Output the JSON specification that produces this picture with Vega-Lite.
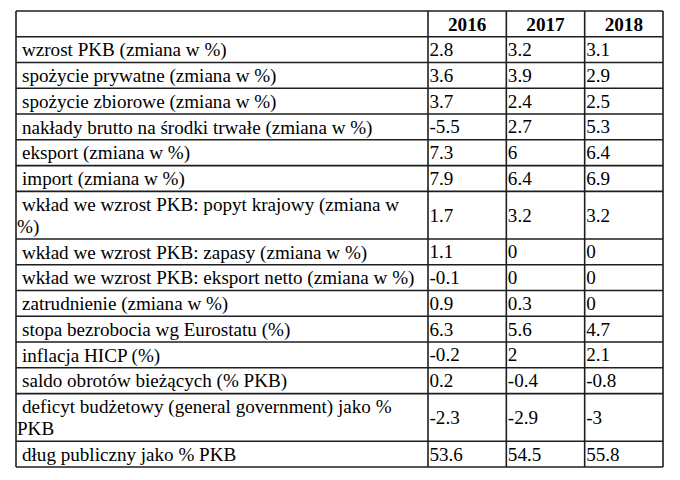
{
  "$schema": "https://vega.github.io/schema/vega-lite/v6.json",
  "autosize": "none",
  "width": 647,
  "height": 456,
  "padding": {"left": 16, "top": 11, "right": 17, "bottom": 13},
  "background": "white",
  "config": {"view": {"stroke": null}, "axis": {"disable": true}, "text": {"font": "'Liberation Serif', 'Times New Roman', 'DejaVu Serif', serif"}},
  "datasets": {
    "rows": [
      {"r": 0, "lines": 1, "label": "", "cont": ""},
      {"r": 1, "lines": 1, "label": "wzrost PKB (zmiana w %)", "cont": "", "2016": 2.8, "2017": 3.2, "2018": 3.1},
      {"r": 2, "lines": 1, "label": "spożycie prywatne (zmiana w %)", "cont": "", "2016": 3.6, "2017": 3.9, "2018": 2.9},
      {"r": 3, "lines": 1, "label": "spożycie zbiorowe (zmiana w %)", "cont": "", "2016": 3.7, "2017": 2.4, "2018": 2.5},
      {"r": 4, "lines": 1, "label": "nakłady brutto na środki trwałe (zmiana w %)", "cont": "", "2016": -5.5, "2017": 2.7, "2018": 5.3},
      {"r": 5, "lines": 1, "label": "eksport (zmiana w %)", "cont": "", "2016": 7.3, "2017": 6, "2018": 6.4},
      {"r": 6, "lines": 1, "label": "import (zmiana w %)", "cont": "", "2016": 7.9, "2017": 6.4, "2018": 6.9},
      {"r": 7, "lines": 2, "label": "wkład we wzrost PKB: popyt krajowy (zmiana w", "cont": "%)", "2016": 1.7, "2017": 3.2, "2018": 3.2},
      {"r": 8, "lines": 1, "label": "wkład we wzrost PKB: zapasy (zmiana w %)", "cont": "", "2016": 1.1, "2017": 0, "2018": 0},
      {"r": 9, "lines": 1, "label": "wkład we wzrost PKB: eksport netto (zmiana w %)", "cont": "", "2016": -0.1, "2017": 0, "2018": 0},
      {"r": 10, "lines": 1, "label": "zatrudnienie (zmiana w %)", "cont": "", "2016": 0.9, "2017": 0.3, "2018": 0},
      {"r": 11, "lines": 1, "label": "stopa bezrobocia wg Eurostatu (%)", "cont": "", "2016": 6.3, "2017": 5.6, "2018": 4.7},
      {"r": 12, "lines": 1, "label": "inflacja HICP (%)", "cont": "", "2016": -0.2, "2017": 2, "2018": 2.1},
      {"r": 13, "lines": 1, "label": "saldo obrotów bieżących (% PKB)", "cont": "", "2016": 0.2, "2017": -0.4, "2018": -0.8},
      {"r": 14, "lines": 2, "label": "deficyt budżetowy (general government) jako %", "cont": "PKB", "2016": -2.3, "2017": -2.9, "2018": -3},
      {"r": 15, "lines": 1, "label": "dług publiczny jako % PKB", "cont": "", "2016": 53.6, "2017": 54.5, "2018": 55.8}
    ],
    "cols": [
      {"c": 0, "name": ""},
      {"c": 1, "name": "2016"},
      {"c": 2, "name": "2017"},
      {"c": 3, "name": "2018"},
      {"c": 4, "name": ""}
    ]
  },
  "resolve": {"scale": {"x": "shared", "y": "shared"}},
  "layer": [
    {
      "data": {"name": "rows"},
      "transform": [
        {"calculate": "datum.lines == 2 ? 1.85 : 1", "as": "h"},
        {"window": [{"op": "sum", "field": "h", "as": "yEnd"}], "sort": [{"field": "r"}]},
        {"calculate": "datum.yEnd - datum.h", "as": "yStart"}
      ],
      "mark": {"type": "rule", "color": "#1e1e1e", "strokeWidth": 1.6},
      "encoding": {
        "y": {"field": "yStart", "type": "quantitative", "scale": {"domain": [0, 17.7], "reverse": true, "nice": false, "zero": false}}
      }
    },
    {
      "data": {"name": "rows"},
      "transform": [
        {"calculate": "datum.lines == 2 ? 1.85 : 1", "as": "h"},
        {"window": [{"op": "sum", "field": "h", "as": "yEnd"}], "sort": [{"field": "r"}]},
        {"filter": "datum.r == 15"}
      ],
      "mark": {"type": "rule", "color": "#1e1e1e", "strokeWidth": 1.6},
      "encoding": {
        "y": {"field": "yEnd", "type": "quantitative"}
      }
    },
    {
      "data": {"name": "cols"},
      "mark": {"type": "rule", "color": "#1e1e1e", "strokeWidth": 1.6},
      "encoding": {
        "x": {"field": "c", "type": "quantitative", "scale": {"domain": [0, 1, 4], "range": [0, 412, 647], "nice": false, "zero": false}}
      }
    },
    {
      "data": {"name": "cols"},
      "transform": [
        {"filter": "datum.name != ''"},
        {"calculate": "datum.c + 0.5", "as": "cMid"}
      ],
      "mark": {"type": "text", "fontSize": 19.2, "fontWeight": "bold", "color": "black", "align": "center", "baseline": "middle", "dy": 1},
      "encoding": {
        "x": {"field": "cMid", "type": "quantitative"},
        "y": {"datum": 0.5, "type": "quantitative"},
        "text": {"field": "name", "type": "nominal"}
      }
    },
    {
      "data": {"name": "rows"},
      "transform": [
        {"calculate": "datum.lines == 2 ? 1.85 : 1", "as": "h"},
        {"window": [{"op": "sum", "field": "h", "as": "yEnd"}], "sort": [{"field": "r"}]},
        {"calculate": "datum.yEnd - datum.h", "as": "yStart"},
        {"filter": "datum.r > 0"}
      ],
      "mark": {"type": "text", "fontSize": 19.1, "color": "black", "align": "left", "baseline": "middle", "dx": 6, "dy": 13.5},
      "encoding": {
        "x": {"datum": 0, "type": "quantitative"},
        "y": {"field": "yStart", "type": "quantitative"},
        "text": {"field": "label", "type": "nominal"}
      }
    },
    {
      "data": {"name": "rows"},
      "transform": [
        {"calculate": "datum.lines == 2 ? 1.85 : 1", "as": "h"},
        {"window": [{"op": "sum", "field": "h", "as": "yEnd"}], "sort": [{"field": "r"}]},
        {"calculate": "datum.yEnd - datum.h", "as": "yStart"},
        {"filter": "datum.cont != ''"}
      ],
      "mark": {"type": "text", "fontSize": 19.1, "color": "black", "align": "left", "baseline": "middle", "dx": 1, "dy": 35.5},
      "encoding": {
        "x": {"datum": 0, "type": "quantitative"},
        "y": {"field": "yStart", "type": "quantitative"},
        "text": {"field": "cont", "type": "nominal"}
      }
    },
    {
      "data": {"name": "rows"},
      "transform": [
        {"calculate": "datum.lines == 2 ? 1.85 : 1", "as": "h"},
        {"window": [{"op": "sum", "field": "h", "as": "yEnd"}], "sort": [{"field": "r"}]},
        {"calculate": "datum.yEnd - datum.h / 2", "as": "yMid"},
        {"filter": "datum.r > 0"},
        {"fold": ["2016", "2017", "2018"], "as": ["year", "value"]},
        {"calculate": "indexof(['2016','2017','2018'], datum.year) + 1", "as": "c"}
      ],
      "mark": {"type": "text", "fontSize": 19.1, "color": "black", "align": "left", "baseline": "middle", "dx": 1.5, "dy": 0.5},
      "encoding": {
        "x": {"field": "c", "type": "quantitative"},
        "y": {"field": "yMid", "type": "quantitative"},
        "text": {"field": "value", "type": "nominal"}
      }
    }
  ]
}
